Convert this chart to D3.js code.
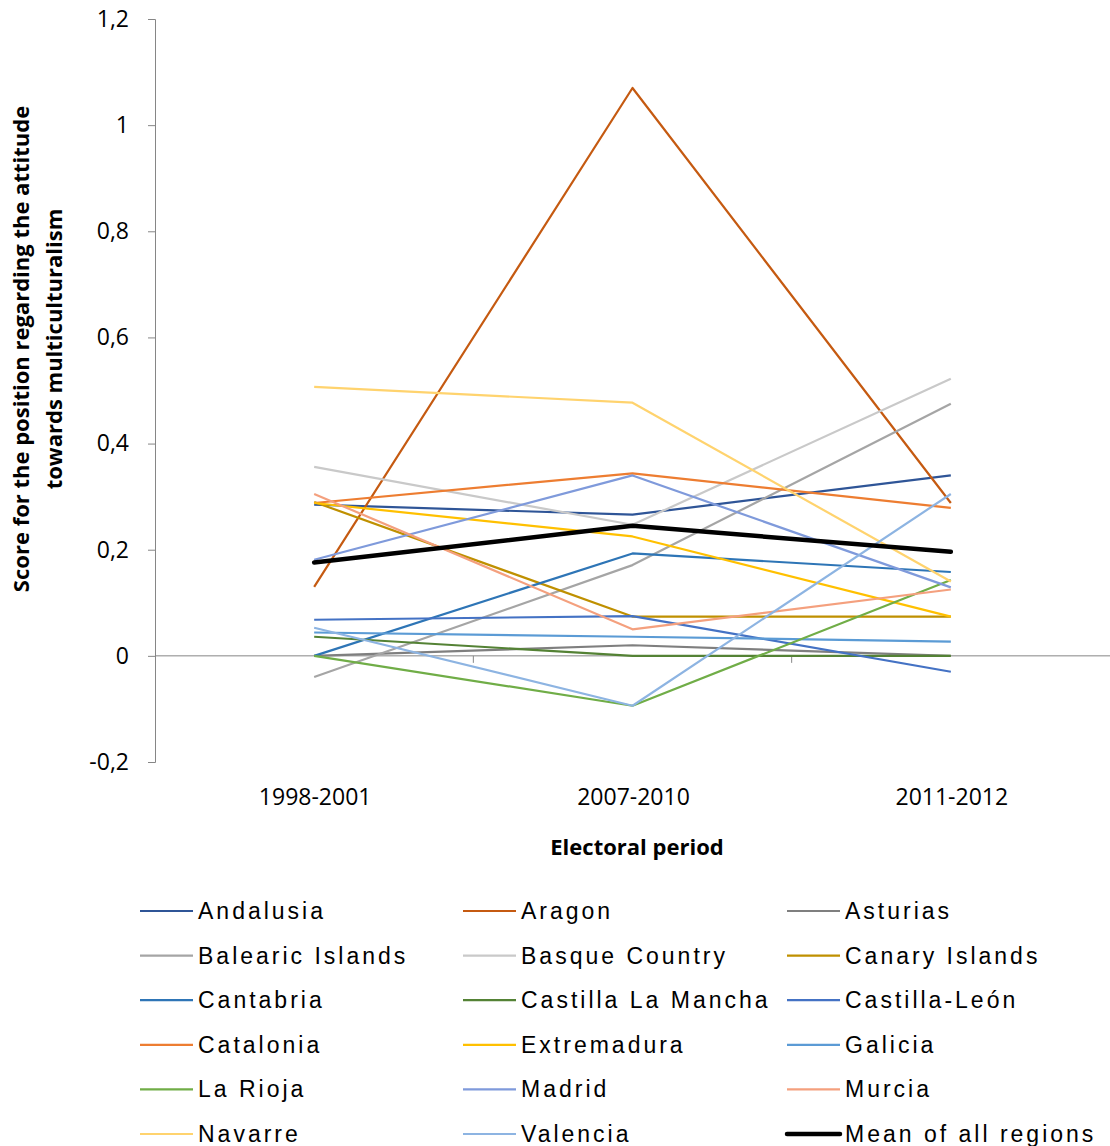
<!DOCTYPE html>
<html>
<head>
<meta charset="utf-8">
<script src="https://cdn.jsdelivr.net/npm/d3@7"></script>
<style>
  html, body { margin: 0; padding: 0; background: #fff; }
  svg { display: block; }
</style>
</head>
<body>
<svg id="chart" width="1110" height="1146"></svg>
<script>
// Electoral periods on the x axis
const periods = ["1998-2001", "2007-2010", "2011-2012"];

// Score per region and period
const andalusia        = [0.285, 0.266, 0.340];
const aragon           = [0.130, 1.070, 0.288];
const asturias         = [0.000, 0.020, 0.000];
const balearicIslands  = [-0.040, 0.171, 0.475];
const basqueCountry    = [0.356, 0.247, 0.522];
const canaryIslands    = [0.290, 0.074, 0.074];
const cantabria        = [0.000, 0.193, 0.158];
const castillaLaMancha = [0.036, 0.000, 0.000];
const castillaLeon     = [0.068, 0.075, -0.030];
const catalonia        = [0.288, 0.344, 0.279];
const extremadura      = [0.288, 0.225, 0.074];
const galicia          = [0.044, 0.036, 0.027];
const laRioja          = [0.000, -0.094, 0.143];
const madrid           = [0.181, 0.340, 0.129];
const murcia           = [0.305, 0.050, 0.125];
const navarre          = [0.507, 0.477, 0.140];
const valencia         = [0.053, -0.094, 0.305];
const meanAllRegions   = [0.176, 0.245, 0.196];

// Region names, in legend order
const regionNames = [
  "Andalusia", "Aragon", "Asturias",
  "Balearic Islands", "Basque Country", "Canary Islands",
  "Cantabria", "Castilla La Mancha", "Castilla-León",
  "Catalonia", "Extremadura", "Galicia",
  "La Rioja", "Madrid", "Murcia",
  "Navarre", "Valencia", "Mean of all regions"
];
const regionValues = [
  andalusia, aragon, asturias,
  balearicIslands, basqueCountry, canaryIslands,
  cantabria, castillaLaMancha, castillaLeon,
  catalonia, extremadura, galicia,
  laRioja, madrid, murcia,
  navarre, valencia, meanAllRegions
];
const regionColors = [
  "#2F5597", "#C55A11", "#7F7F7F",
  "#A5A5A5", "#C9C9C9", "#BF9000",
  "#2E75B6", "#548235", "#4472C4",
  "#ED7D31", "#FFC000", "#5B9BD5",
  "#70AD47", "#7F9ADB", "#F4A07E",
  "#FFD36E", "#8DB4E2", "#000000"
];

// Y axis tick values and labels (comma decimals)
const yTicks = [-0.2, 0, 0.2, 0.4, 0.6, 0.8, 1, 1.2];
const yTickLabels = ["-0,2", "0", "0,2", "0,4", "0,6", "0,8", "1", "1,2"];

const series = regionNames.map((name, i) => ({
  name,
  color: regionColors[i],
  values: regionValues[i],
  isMean: name === "Mean of all regions"
}));

const svg = d3.select("#chart");
const plot = { left: 155, right: 1110, top: 19, bottom: 762 };
const axisColor = "#868686";
const labelFont = "'Open Sans', 'Noto Sans', sans-serif";

const x = d3.scaleBand().domain(periods).range([plot.left, plot.right]);
const y = d3.scaleLinear().domain([-0.2, 1.2]).range([plot.bottom, plot.top]);
const xc = p => x(p) + x.bandwidth() / 2;

// Y axis
const yAxis = svg.append("g")
  .attr("transform", `translate(${plot.left},0)`)
  .call(d3.axisLeft(y).tickValues(yTicks)
    .tickFormat((d, i) => yTickLabels[i]).tickSize(7).tickPadding(19));
yAxis.select(".domain").attr("stroke", axisColor).attr("stroke-width", 1);
yAxis.selectAll(".tick line").attr("stroke", axisColor);
yAxis.selectAll(".tick text")
  .attr("font-family", labelFont).attr("font-size", 23).attr("fill", "#000");

// X axis drawn along zero, with boundary ticks between periods
const xAxis = svg.append("g")
  .attr("transform", `translate(0,${y(0)})`);
xAxis.append("line")
  .attr("x1", plot.left).attr("x2", plot.right)
  .attr("stroke", axisColor).attr("stroke-width", 1);
xAxis.selectAll("line.bound")
  .data(periods.slice(1))
  .join("line")
  .attr("class", "bound")
  .attr("x1", d => x(d)).attr("x2", d => x(d))
  .attr("y1", 0).attr("y2", 7)
  .attr("stroke", axisColor);

// Period labels below the plot
svg.append("g").selectAll("text")
  .data(periods)
  .join("text")
  .attr("x", d => xc(d) + 1)
  .attr("y", 805)
  .attr("text-anchor", "middle")
  .attr("font-family", labelFont)
  .attr("font-size", 23)
  .text(d => d);

// Axis titles
svg.append("text")
  .attr("x", 637).attr("y", 855)
  .attr("text-anchor", "middle")
  .attr("font-family", labelFont)
  .attr("font-weight", "bold")
  .attr("font-size", 22)
  .text("Electoral period");

const yTitle = svg.append("text")
  .attr("transform", "translate(0,349) rotate(-90)")
  .attr("text-anchor", "middle")
  .attr("font-family", labelFont)
  .attr("font-weight", "bold")
  .attr("font-size", 22);
yTitle.append("tspan").attr("x", 0).attr("y", 29)
  .text("Score for the position regarding the attitude");
yTitle.append("tspan").attr("x", 0).attr("y", 62)
  .text("towards multiculturalism");

// Series lines
const line = d3.line()
  .x((d, i) => xc(periods[i]))
  .y(d => y(d));

svg.append("g").selectAll("path")
  .data(series)
  .join("path")
  .attr("d", d => line(d.values))
  .attr("fill", "none")
  .attr("stroke", d => d.color)
  .attr("stroke-width", d => d.isMean ? 4.5 : 2.2)
  .attr("stroke-linejoin", "round")
  .attr("stroke-linecap", d => d.isMean ? "round" : "butt");

// Legend: three columns, six rows
const legend = svg.append("g");
const colX = [140, 463, 787];
const rowY = d3.range(6).map(i => 911 + i * 44.6);
const item = legend.selectAll("g")
  .data(series)
  .join("g")
  .attr("transform", (d, i) => `translate(${colX[i % 3]},${rowY[Math.floor(i / 3)]})`);
item.append("line")
  .attr("x1", 0).attr("x2", 53)
  .attr("stroke", d => d.color)
  .attr("stroke-width", d => d.isMean ? 4.5 : 2.2)
  .attr("stroke-linecap", d => d.isMean ? "round" : "butt");
item.append("text")
  .attr("x", 58).attr("y", 8)
  .attr("font-family", "'Liberation Sans', Arial, sans-serif")
  .attr("font-size", 23)
  .attr("letter-spacing", 3)
  .text(d => d.name);
</script>
</body>
</html>
